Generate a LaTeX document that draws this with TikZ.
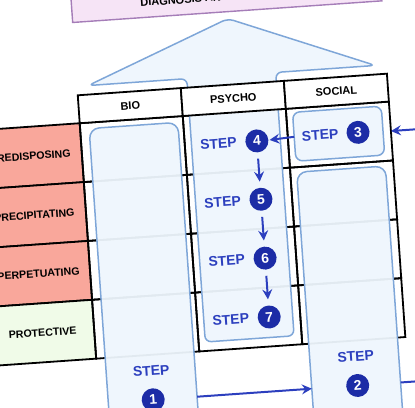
\documentclass[tikz,border=0pt]{standalone}
\usepackage{fontspec}
\setmainfont{Liberation Sans}
\usetikzlibrary{arrows.meta,calc}
\definecolor{stepblue}{HTML}{2C3FBE}
\definecolor{stepdark}{HTML}{1C2CA6}
\definecolor{pilline}{HTML}{7EA6D8}
\definecolor{pilfill}{HTML}{EEF6FD}
\definecolor{purfill}{HTML}{F6E4F6}
\definecolor{purline}{HTML}{A57DB8}
\definecolor{redfill}{HTML}{F9A79B}
\definecolor{grnfill}{HTML}{F0FBE8}
\begin{document}
\begin{tikzpicture}[x=1pt,y=-1pt,
  cell/.style={draw=black,line width=1.8pt,minimum width=103.3pt,minimum height=59pt,inner sep=0pt,outer sep=0pt},
  headcell/.style={cell,fill=white,minimum height=28pt,font=\fontsize{11}{13}\selectfont\bfseries},
  labcell/.style={cell,font=\fontsize{10.6}{12}\selectfont\bfseries},
  pillar/.style={draw=pilline,line width=1.5pt,fill=pilfill,fill opacity=0.95,text opacity=1,rounded corners=10pt,inner sep=0pt,outer sep=0pt},
  steptext/.style={text=stepblue,font=\fontsize{14}{16}\selectfont\bfseries,inner sep=0pt},
  stepnum/.style={circle,fill=stepdark,text=white,font=\fontsize{14}{16}\selectfont\bfseries,minimum size=23pt,inner sep=0pt},
  arr/.style={draw=stepblue,line width=2pt,-{Stealth[length=10pt,width=10pt,inset=3.5pt]}}
]
\useasboundingbox (0,0) rectangle (415,407);
\clip (0,0) rectangle (415,407);
\begin{scope}[shift={(77.7,94.3)},rotate=4,transform shape]
% top box
\node[draw=purline,fill=purfill,line width=1.4pt,minimum width=309.9pt,minimum height=32pt,inner sep=0pt] (diag) at (154.95,-88) {};
\node[font=\fontsize{11}{13}\selectfont\bfseries,inner sep=0pt] (diagt) at (154.95,-87) {DIAGNOSIS AND FORMULATION};
% row labels
\node[labcell,fill=redfill] (lpre) at (-51.65,58.5) {PREDISPOSING};
\node[labcell,fill=redfill] (lprc) at (-51.65,117.5) {PRECIPITATING};
\node[labcell,fill=redfill] (lper) at (-51.65,176.5) {PERPETUATING};
\node[labcell,fill=grnfill] (lpro) at (-51.65,235.5) {PROTECTIVE};
% body cells
\foreach \c/\x in {bio/51.65,psy/154.95,soc/258.25}{
  \foreach \r/\y in {1/58.5,2/117.5,3/176.5,4/235.5}{
    \node[cell] (\c\r) at (\x,\y) {};
  }
}
% roof arrow with shaft
\draw[draw=pilline,line width=1.5pt,fill=pilfill,fill opacity=0.95,rounded corners=6pt]
  (110,256) -- (110,-8) -- (11,-8) -- (155,-65) -- (299,-8) -- (199,-8) -- (199,256) -- cycle;
% pillars
\node[pillar,minimum width=89pt,minimum height=315pt] (p1) at (53.5,192.5) {};
\node[pillar,minimum width=89pt,minimum height=257pt] (p2) at (257.5,221.5) {};
\node[pillar,rounded corners=7pt,minimum width=89pt,minimum height=49pt] (b3) at (257.5,57.5) {};
% header
\node[headcell] (hbio) at (51.65,15) {BIO};
\node[headcell] (hpsy) at (154.95,15) {PSYCHO};
\node[headcell] (hsoc) at (258.25,15) {SOCIAL};
% steps
\node[steptext] (t1) at (54,281) {STEP};
\node[stepnum] (c1) at (54,310) {1};
\node[steptext] (t2) at (259,281) {STEP};
\node[stepnum] (c2) at (259,310) {2};
\node[steptext] (t3) at (239,57.5) {STEP};
\node[stepnum] (c3) at (277,57.5) {3};
\node[steptext] (t4) at (137,59) {STEP};
\node[stepnum] (c4) at (175.5,59) {4};
\node[steptext] (t5) at (137,117.5) {STEP};
\node[stepnum] (c5) at (175.5,117.5) {5};
\node[steptext] (t6) at (137,176.5) {STEP};
\node[stepnum] (c6) at (175.5,176.5) {6};
\node[steptext] (t7) at (137,235.5) {STEP};
\node[stepnum] (c7) at (175.5,235.5) {7};
% connectors
\draw[arr] ($(p1.north east)!(c1)!(p1.south east)$) -- ($(p2.north west)!(c1)!(p2.south west)$);
\draw[arr] ($(p2.north east)!(c2)!(p2.south east)$) -- ++(40,0) -- ++(0,-251.5) -- (soc1.east);
\draw[arr,shorten >=1pt] (b3.west) -- (c4.east);
\draw[arr,shorten <=6pt,shorten >=6pt] (c4) -- (c5);
\draw[arr,shorten <=6pt,shorten >=6pt] (c5) -- (c6);
\draw[arr,shorten <=6pt,shorten >=6pt] (c6) -- (c7);
\end{scope}
\end{tikzpicture}
\end{document}
